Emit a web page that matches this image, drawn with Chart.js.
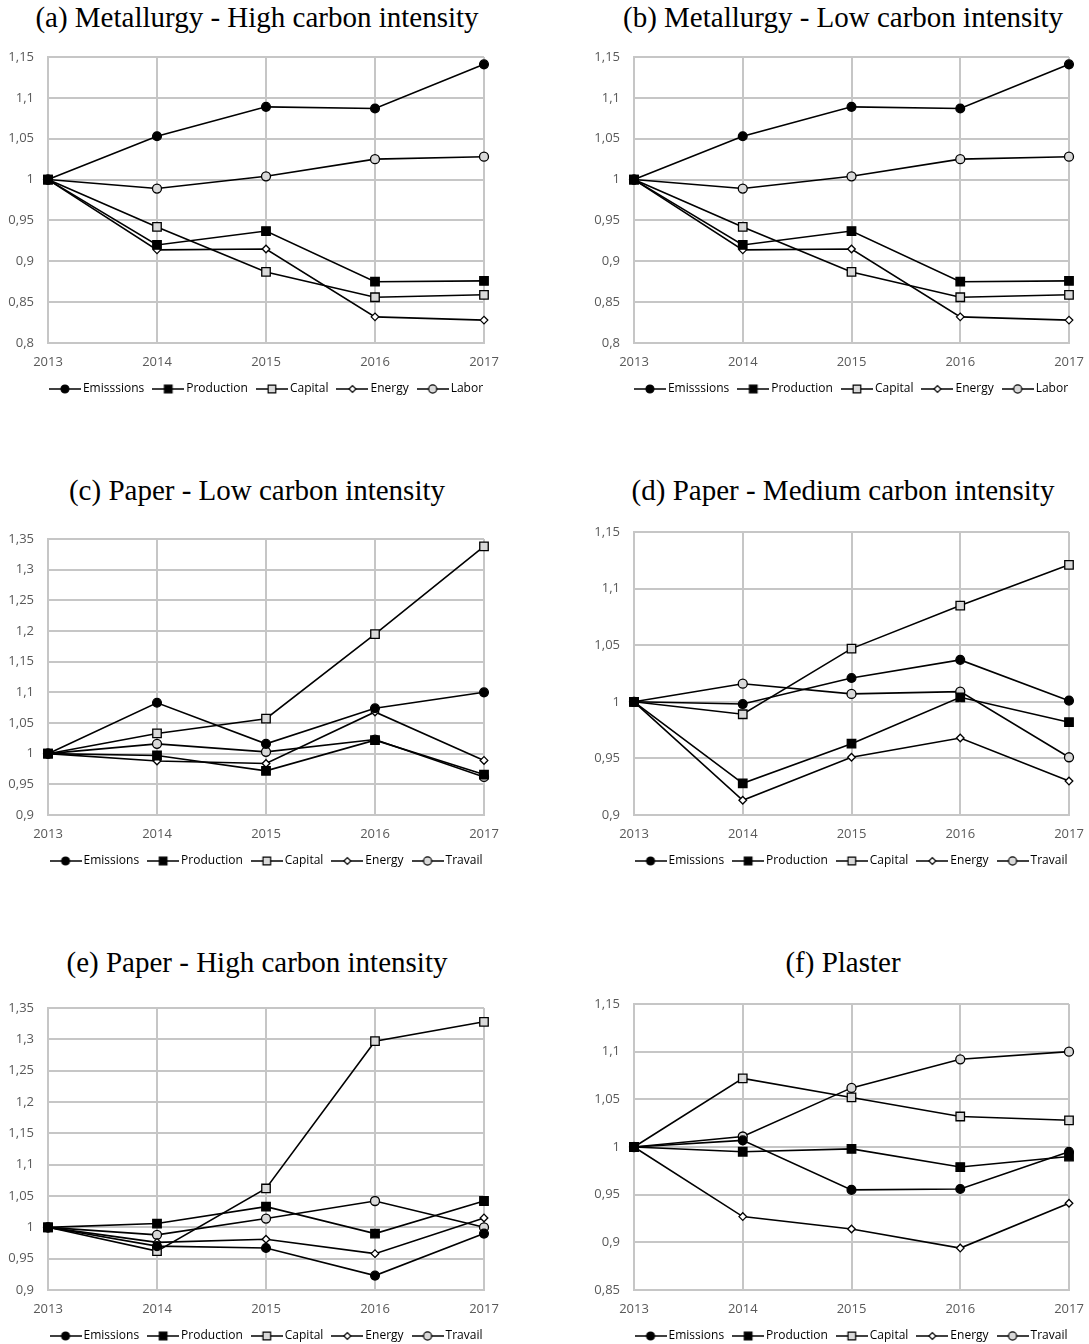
<!DOCTYPE html>
<html>
<head>
<meta charset="utf-8">
<script src="https://cdn.jsdelivr.net/npm/chart.js@4.4.1/dist/chart.umd.min.js"></script>
<style>
  html, body { margin: 0; padding: 0; background: #fff; overflow: hidden; }
  body { width: 1089px; height: 1344px; position: relative; }
  canvas { position: absolute; }
  .title {
    position: absolute; width: 600px; text-align: center; white-space: nowrap;
    font-family: 'Liberation Serif', serif; font-size: 29px; line-height: 32px; color: #000;
  }
</style>
</head>
<body>
<div class="title" style="left:-43px; top:1px">(a) Metallurgy - High carbon intensity</div>
<div class="title" style="left:543px; top:1px">(b) Metallurgy - Low carbon intensity</div>
<div class="title" style="left:-43px; top:474px">(c) Paper - Low carbon intensity</div>
<div class="title" style="left:543px; top:474px">(d) Paper - Medium carbon intensity</div>
<div class="title" style="left:-43px; top:946px">(e) Paper - High carbon intensity</div>
<div class="title" style="left:543px; top:946px">(f) Plaster</div>

<canvas id="chartA" width="536" height="405" style="left:0px; top:0px"></canvas>
<canvas id="chartB" width="526" height="405" style="left:590px; top:0px"></canvas>
<canvas id="chartC" width="536" height="407" style="left:0px; top:470px"></canvas>
<canvas id="chartD" width="526" height="407" style="left:590px; top:470px"></canvas>
<canvas id="chartE" width="536" height="407" style="left:0px; top:945px"></canvas>
<canvas id="chartF" width="526" height="407" style="left:590px; top:945px"></canvas>

<script>
const years = ['2013', '2014', '2015', '2016', '2017'];

// metallurgy: panels (a) and (b) carry the same numbers
const metalEmissions = [1, 1.053, 1.089, 1.087, 1.141];
const metalProduction = [1, 0.920, 0.937, 0.875, 0.876];
const metalCapital = [1, 0.942, 0.887, 0.856, 0.859];
const metalEnergy = [1, 0.914, 0.915, 0.832, 0.828];
const metalLabor = [1, 0.989, 1.004, 1.025, 1.028];

// paper - low carbon intensity
const paperLowEmissions = [1, 1.083, 1.016, 1.074, 1.100];
const paperLowProduction = [1, 0.997, 0.972, 1.022, 0.966];
const paperLowCapital = [1, 1.033, 1.057, 1.195, 1.338];
const paperLowEnergy = [1, 0.988, 0.984, 1.068, 0.989];
const paperLowTravail = [1, 1.016, 1.003, 1.023, 0.962];

// paper - medium carbon intensity
const paperMedEmissions = [1, 0.998, 1.021, 1.037, 1.001];
const paperMedProduction = [1, 0.928, 0.963, 1.004, 0.982];
const paperMedCapital = [1, 0.989, 1.047, 1.085, 1.121];
const paperMedEnergy = [1, 0.913, 0.951, 0.968, 0.930];
const paperMedTravail = [1, 1.016, 1.007, 1.009, 0.951];

// paper - high carbon intensity
const paperHighEmissions = [1, 0.970, 0.967, 0.923, 0.990];
const paperHighProduction = [1, 1.006, 1.033, 0.990, 1.042];
const paperHighCapital = [1, 0.962, 1.062, 1.297, 1.328];
const paperHighEnergy = [1, 0.976, 0.981, 0.958, 1.015];
const paperHighTravail = [1, 0.988, 1.014, 1.042, 1.000];

// plaster
const plasterEmissions = [1, 1.007, 0.955, 0.956, 0.995];
const plasterProduction = [1, 0.995, 0.998, 0.979, 0.990];
const plasterCapital = [1, 1.072, 1.052, 1.032, 1.028];
const plasterEnergy = [1, 0.927, 0.914, 0.894, 0.941];
const plasterTravail = [1, 1.011, 1.062, 1.092, 1.100];

const metalNames = ['Emisssions', 'Production', 'Capital', 'Energy', 'Labor'];
const paperNames = ['Emissions', 'Production', 'Capital', 'Energy', 'Travail'];

// y axis ranges (min, max), step is 0.05 everywhere
const rangeMetal = [0.8, 1.15];
const rangePaperLow = [0.9, 1.35];
const rangePaperMed = [0.9, 1.15];
const rangePaperHigh = [0.9, 1.35];
const rangePlaster = [0.85, 1.15];

const gridColor = '#c6c6c6';
const tickColor = '#595959';

const markers = [
  { pointStyle: 'circle', radius: 4.4, fill: '#000000' },
  { pointStyle: 'rect', radius: 6, fill: '#000000' },
  { pointStyle: 'rect', radius: 6, fill: '#d9d9d9' },
  { pointStyle: 'rectRot', radius: 3.8, fill: '#ffffff' },
  { pointStyle: 'circle', radius: 4.5, fill: '#d9d9d9' },
];

// legend glyph: short line with the marker on it
function legendIcon(m) {
  const c = document.createElement('canvas');
  c.width = 32;
  c.height = 14;
  const g = c.getContext('2d');
  g.strokeStyle = '#000';
  g.lineWidth = 1.5;
  g.beginPath();
  g.moveTo(0, 7);
  g.lineTo(32, 7);
  g.stroke();
  g.fillStyle = m.fill;
  g.lineWidth = 1.2;
  g.beginPath();
  const r = m.radius * 0.9;
  if (m.pointStyle === 'circle') {
    g.arc(16, 7, r, 0, Math.PI * 2);
  } else if (m.pointStyle === 'rect') {
    const h = r * Math.SQRT1_2;
    g.rect(16 - h, 7 - h, 2 * h, 2 * h);
  } else {
    g.moveTo(16 - r, 7); g.lineTo(16, 7 - r); g.lineTo(16 + r, 7); g.lineTo(16, 7 + r); g.closePath();
  }
  g.fill();
  g.stroke();
  return c;
}
const legendIcons = markers.map(legendIcon);

const fmt = v => parseFloat(v.toFixed(2)).toString().replace('.', ',');

function makeChart(id, names, series, range, box) {
  new Chart(document.getElementById(id), {
    type: 'line',
    data: {
      labels: years,
      datasets: series.map((values, i) => ({
        label: names[i],
        data: values,
        borderColor: '#000000',
        borderWidth: 1.6,
        pointStyle: markers[i].pointStyle,
        pointRadius: markers[i].radius,
        pointHoverRadius: markers[i].radius,
        pointBackgroundColor: markers[i].fill,
        pointBorderColor: '#000000',
        pointBorderWidth: 1.3,
        tension: 0,
        clip: false,
      })),
    },
    options: {
      responsive: false,
      animation: false,
      layout: { padding: { top: box.padTop, left: 0, right: 0, bottom: 0 } },
      scales: {
        x: {
          grid: { color: gridColor, lineWidth: 2, drawTicks: false },
          border: { color: gridColor, width: 2 },
          ticks: { color: tickColor, font: { family: 'Open Sans', size: 13 }, padding: 11, maxRotation: 0, autoSkip: false },
          afterFit: a => { a.height = 28; },
        },
        y: {
          min: range[0],
          max: range[1],
          grid: { color: gridColor, lineWidth: 2, drawTicks: false },
          border: { color: gridColor, width: 2 },
          ticks: { stepSize: 0.05, callback: fmt, color: tickColor, font: { family: 'Open Sans', size: 13 }, padding: 14 },
          afterFit: a => { a.width = box.leftW; },
        },
        spacer: {
          type: 'linear',
          position: 'right',
          grid: { display: false },
          border: { display: false },
          ticks: { display: false },
          afterFit: a => { a.width = box.rightW; },
        },
      },
      plugins: {
        tooltip: { enabled: false },
        legend: {
          position: 'bottom',
          labels: {
            usePointStyle: true,
            pointStyleWidth: 24,
            padding: 12,
            color: tickColor,
            font: { family: 'Open Sans', size: 12 },
            generateLabels: chart => chart.data.datasets.map((ds, i) => ({
              text: ds.label,
              pointStyle: legendIcons[i],
              fillStyle: markers[i].fill,
              strokeStyle: '#000',
              lineWidth: 0,
              hidden: false,
              datasetIndex: i,
            })),
          },
        },
      },
    },
  });
}

const leftBox = { leftW: 48, rightW: 52 };
const rightBox = { leftW: 44, rightW: 47 };

makeChart('chartA', metalNames,
  [metalEmissions, metalProduction, metalCapital, metalEnergy, metalLabor],
  rangeMetal, { ...leftBox, padTop: 57 });
makeChart('chartB', metalNames,
  [metalEmissions, metalProduction, metalCapital, metalEnergy, metalLabor],
  rangeMetal, { ...rightBox, padTop: 57 });
makeChart('chartC', paperNames,
  [paperLowEmissions, paperLowProduction, paperLowCapital, paperLowEnergy, paperLowTravail],
  rangePaperLow, { ...leftBox, padTop: 69 });
makeChart('chartD', paperNames,
  [paperMedEmissions, paperMedProduction, paperMedCapital, paperMedEnergy, paperMedTravail],
  rangePaperMed, { ...rightBox, padTop: 62 });
makeChart('chartE', paperNames,
  [paperHighEmissions, paperHighProduction, paperHighCapital, paperHighEnergy, paperHighTravail],
  rangePaperHigh, { ...leftBox, padTop: 63 });
makeChart('chartF', paperNames,
  [plasterEmissions, plasterProduction, plasterCapital, plasterEnergy, plasterTravail],
  rangePlaster, { ...rightBox, padTop: 59 });
</script>
</body>
</html>
